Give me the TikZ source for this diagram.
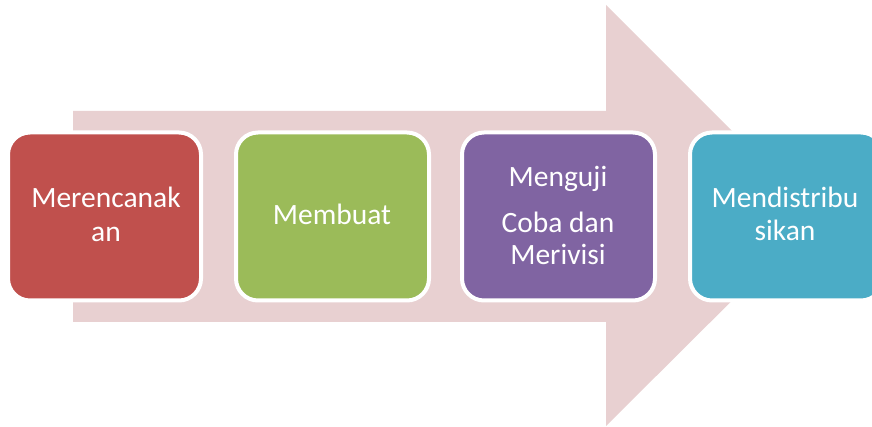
\documentclass[tikz,border=0pt]{standalone}
\usepackage{fontspec}
\setmainfont{Carlito}
\definecolor{arrowpink}{RGB}{232,208,209}
\definecolor{bred}{RGB}{192,80,77}
\definecolor{bgreen}{RGB}{155,187,89}
\definecolor{bpurple}{RGB}{128,100,162}
\definecolor{bcyan}{RGB}{75,172,198}
\tikzset{
  stepbox/.style={draw=white, line width=4pt, rounded corners=22pt,
    minimum width=193pt, minimum height=168pt, inner sep=0pt},
  lbl/.style={text=white, anchor=base, inner sep=0pt,
    font=\fontsize{29.5}{33}\selectfont}
}
\begin{document}
\begin{tikzpicture}[x=1pt,y=-1pt]
\useasboundingbox (0,0) rectangle (872,427);
\begin{scope}
\clip (0,0) rectangle (872,427);
\fill[arrowpink] (73,111) -- (606,111) -- (606,5) -- (817,216) -- (606,426) -- (606,322) -- (73,322) -- cycle;
\node[stepbox, fill=bred]    (plan)  at (104.5,216.5) {};
\node[stepbox, fill=bgreen]  (make)  at (332.5,216.5) {};
\node[stepbox, fill=bpurple] (test)  at (558.5,216.5) {};
\node[stepbox, fill=bcyan]   (dist)  at (786.5,216.5) {};
\end{scope}
\node[lbl] (plan1) at (106,208) {Merencanak};
\node[lbl] (plan2) at (106,242) {an};
\node[lbl] (make1) at (332,225) {Membuat};
\node[lbl] (test1) at (558,187) {Menguji};
\node[lbl] (test2) at (558,233) {Coba dan};
\node[lbl] (test3) at (558,265) {Merivisi};
\node[lbl] (dist1) at (785,208) {Mendistribu};
\node[lbl] (dist2) at (785,241) {sikan};
\end{tikzpicture}
\end{document}
